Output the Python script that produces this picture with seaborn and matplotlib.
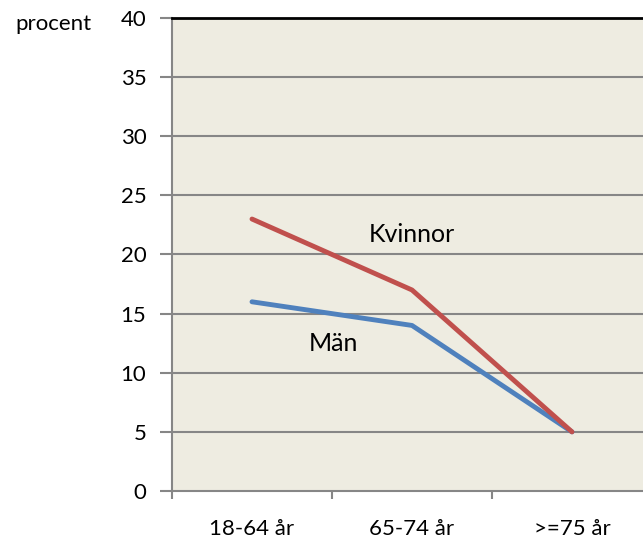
import matplotlib
matplotlib.use("Agg")
import matplotlib.pyplot as plt
import seaborn as sns
import pandas as pd

# data
age_groups = ["18-64 år", "65-74 år", ">=75 år"]
kvinnor = [23, 17, 5]
man = [16, 14, 5]
y_ticks = [0, 5, 10, 15, 20, 25, 30, 35, 40]

df = pd.DataFrame({
    "pos": list(range(len(age_groups))) * 2,
    "procent": kvinnor + man,
    "kon": ["Kvinnor"] * len(kvinnor) + ["Män"] * len(man),
})

sns.set_style("white")
plt.rcParams["font.family"] = ["Lato", "DejaVu Sans"]
plt.rcParams["text.color"] = "black"
plt.rcParams["xtick.color"] = "black"
plt.rcParams["ytick.color"] = "black"

fig = plt.figure(figsize=(6.43, 5.47), dpi=100)
ax = fig.add_axes([172 / 643, 56 / 547, 480 / 643, 473 / 547])
ax.set_facecolor("#EEECE1")

grid_col = "#868686"
for y in y_ticks[1:-1]:
    ax.axhline(y, color=grid_col, lw=1.5, zorder=1)

sns.lineplot(data=df, x="pos", y="procent", hue="kon",
             palette={"Kvinnor": "#C0504D", "Män": "#4F81BD"},
             hue_order=["Män", "Kvinnor"], linewidth=3.5, legend=False,
             ax=ax, zorder=3)

ax.set_xlim(-0.5, 2.5)
ax.set_ylim(0, 40)
ax.set_xlabel("")
ax.set_ylabel("")

# category labels between the tick marks
ax.set_xticks([-0.5, 0.5, 1.5, 2.5])
ax.set_xticklabels([])
ax.set_xticks(range(len(age_groups)), minor=True)
ax.set_xticklabels(age_groups, minor=True, fontsize=16)
ax.tick_params(axis="x", which="minor", bottom=True, length=0, pad=20)
ax.tick_params(axis="x", which="major", bottom=True, length=6, width=1.5,
               color=grid_col, direction="out")
ax.set_yticks(y_ticks)
ax.set_yticklabels([str(v) for v in y_ticks], fontsize=16)
ax.tick_params(axis="y", left=True, length=8.5, width=1.5, color=grid_col,
               pad=10, direction="out")

for side in ["left", "bottom"]:
    ax.spines[side].set_color(grid_col)
    ax.spines[side].set_linewidth(1.5)
ax.spines["top"].set_color("black")
ax.spines["top"].set_linewidth(2)
ax.spines["right"].set_visible(False)

ax.text(1.0, 21.7, "Kvinnor", fontsize=18, ha="center", va="center")
ax.text(0.51, 12.5, "Män", fontsize=18, ha="center", va="center")
fig.text(53 / 643, 1 - 24 / 547, "procent", fontsize=16, ha="center",
         va="center")

fig.savefig("out.png", dpi=100)
